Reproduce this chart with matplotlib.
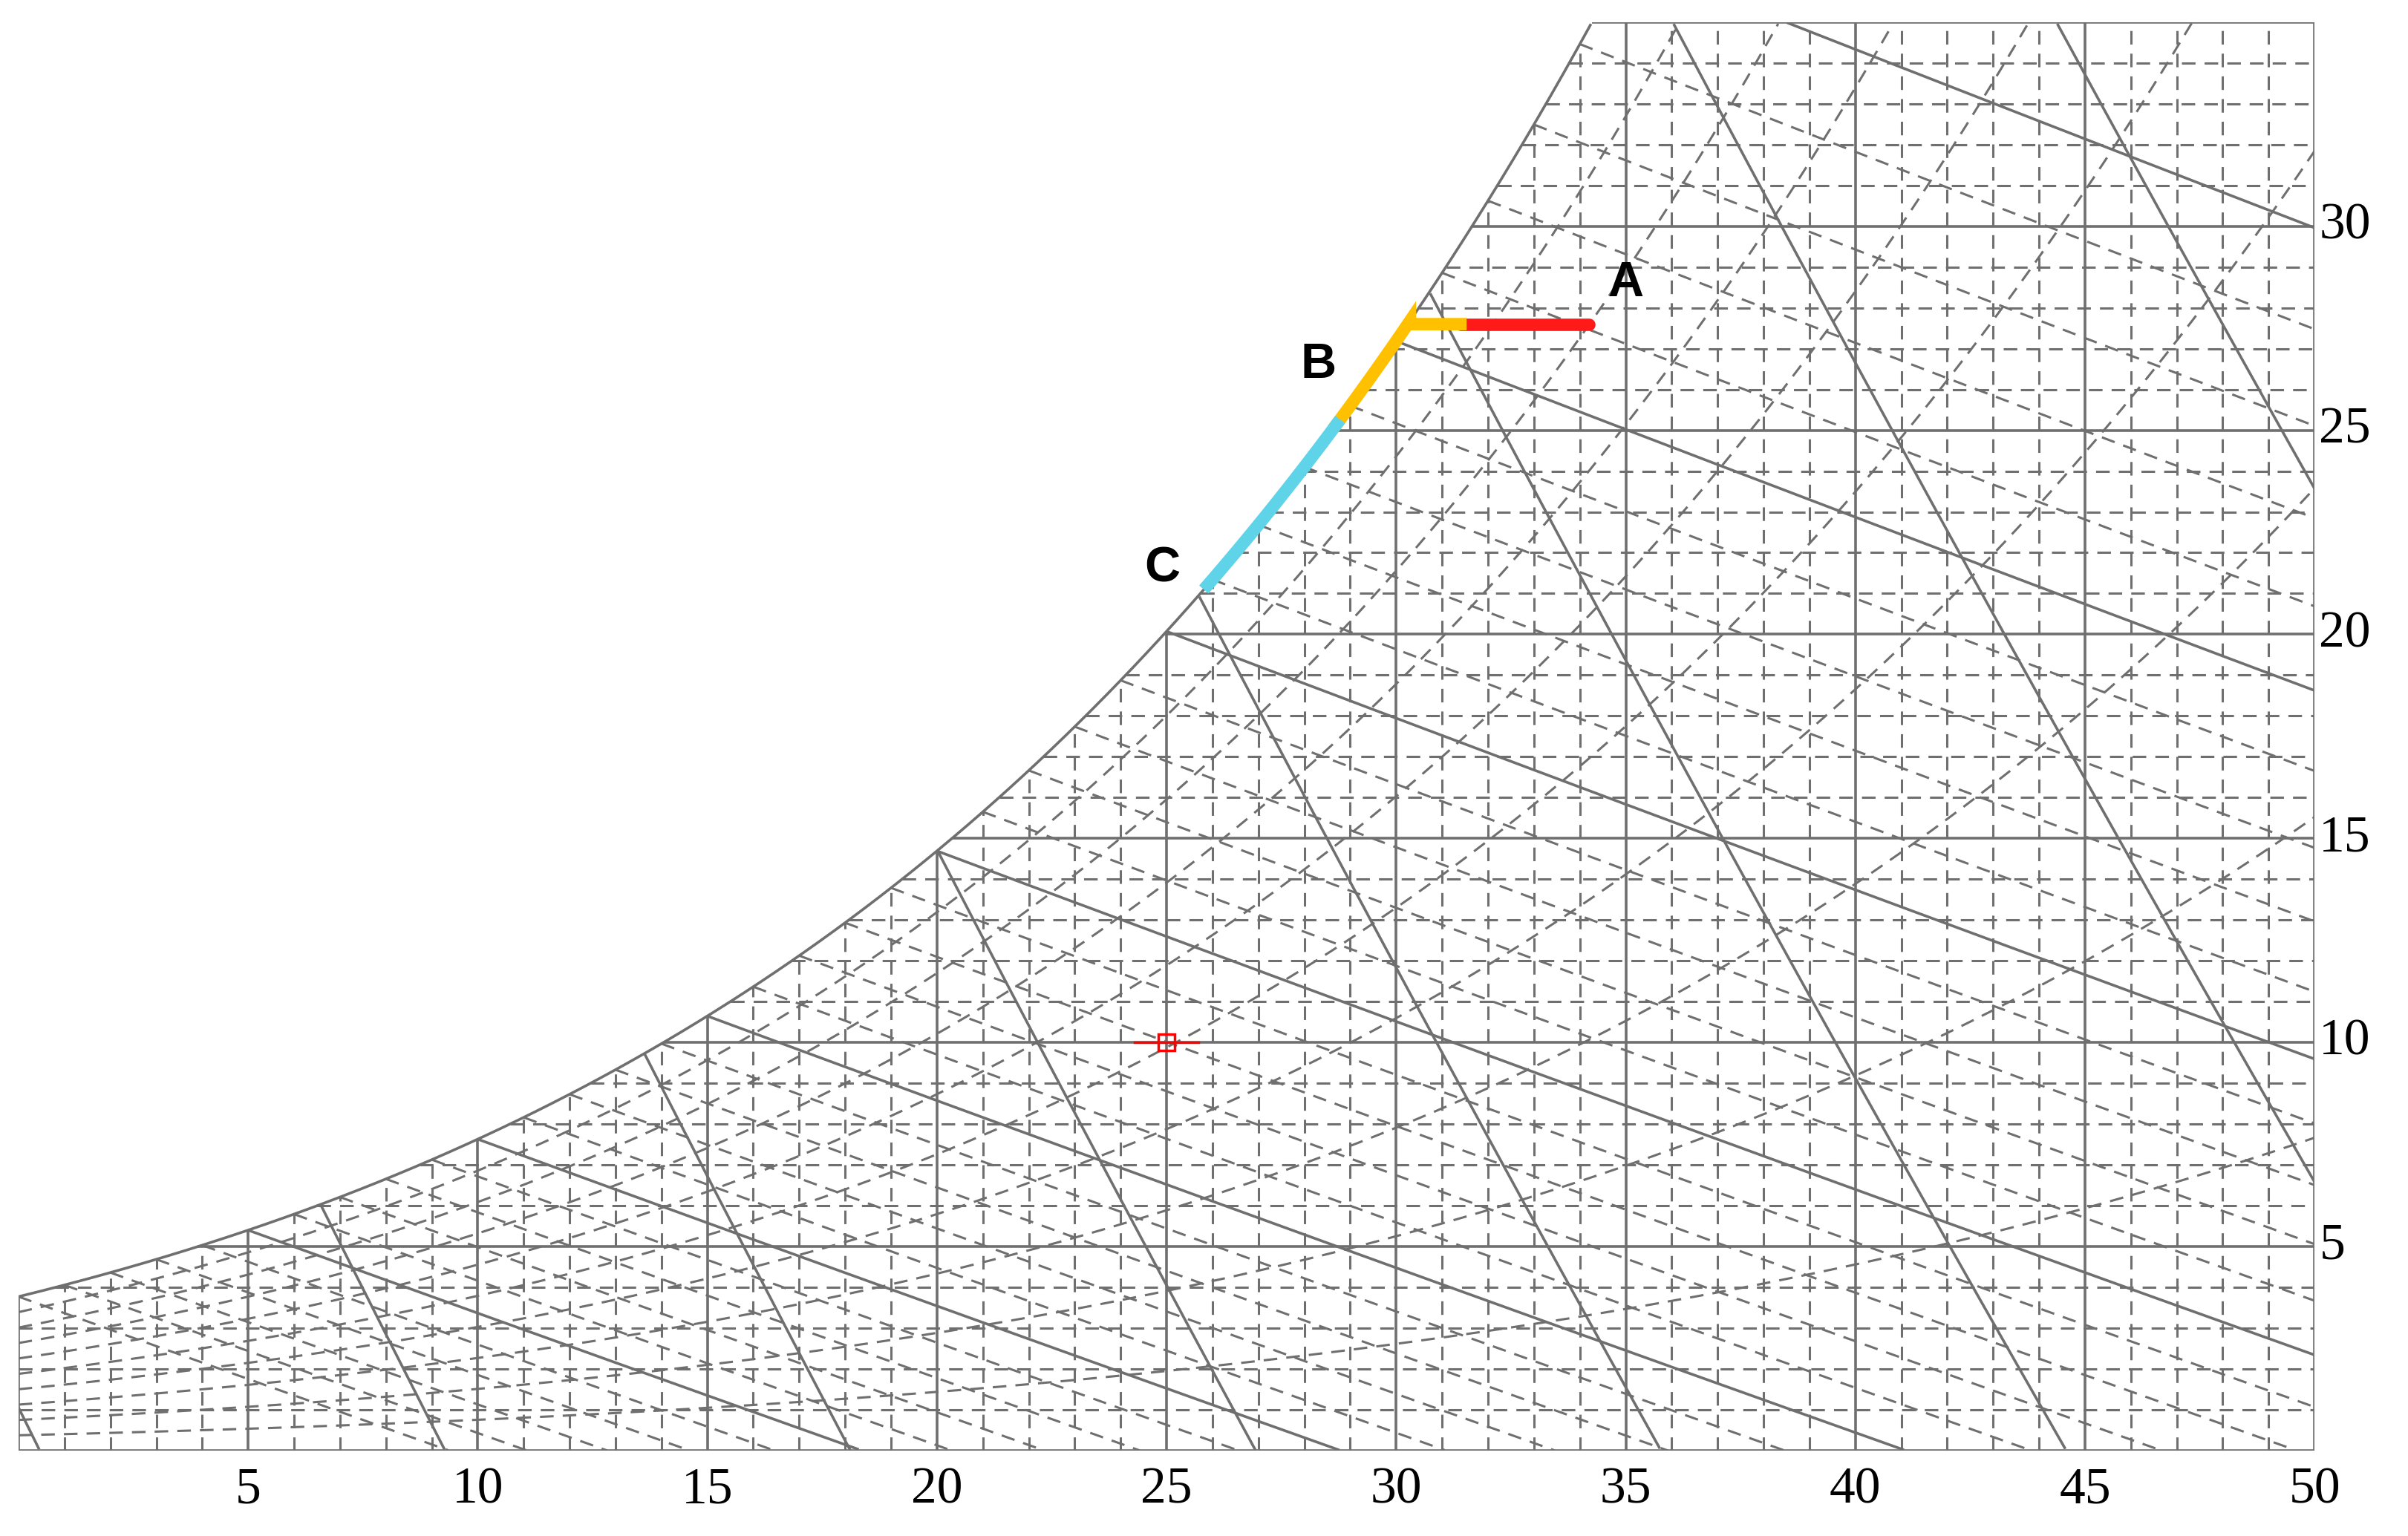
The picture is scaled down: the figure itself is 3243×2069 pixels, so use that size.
import numpy as np
import matplotlib.pyplot as plt

P = 101325.0
GREY = "#6f6f6f"

# chart ranges
t_min, t_max = 0, 50
w_max = 35
temp_ticks = [5, 10, 15, 20, 25, 30, 35, 40, 45, 50]
w_ticks = [5, 10, 15, 20, 25, 30]
rh_levels = [0.1, 0.2, 0.3, 0.4, 0.5, 0.6, 0.7, 0.8, 0.9]
wb_levels = list(range(0, 36))
vol_levels = [0.775, 0.80, 0.825, 0.85, 0.875, 0.90, 0.925, 0.95]

# process: A -> B (cooling to saturation) -> C (along saturation)
a_temp, a_w = 34.2, 27.6
kink_temp = 31.4
b_temp = 28.7
c_temp = 25.9
marker_temp, marker_w = 25.0, 10.0


def p_sat(t):
    return 610.78 * np.exp(17.27 * t / (t + 237.3))


def w_rh(t, phi):
    pv = phi * p_sat(t)
    return 622.0 * pv / (P - pv)


def w_sat(t):
    return w_rh(t, 1.0)


def w_wetbulb(t, twb):
    ws = w_sat(twb) / 1000.0
    w = ((2501 - 2.326 * twb) * ws - 1.006 * (t - twb)) / (2501 + 1.86 * t - 4.186 * twb)
    return w * 1000.0


def w_volume(t, v):
    return (v * P / 1000.0 / (0.287 * (t + 273.15)) - 1) / 1.6078 * 1000.0


def clip(t, w):
    w = np.array(w, dtype=float)
    bad = (w > w_sat(t) + 1e-6) | (w > w_max) | (w < 0)
    w[bad] = np.nan
    return w


fig = plt.figure(figsize=(32.43, 20.69), dpi=100)
ax = fig.add_axes([0.0077, 0.0556, 0.9535, 0.930])
ax.set_xlim(t_min, t_max)
ax.set_ylim(0, w_max)
ax.axis("off")

solid = dict(color=GREY, lw=2.6, solid_capstyle="butt")
dashed = dict(color=GREY, lw=2.2, linestyle=(0, (6, 4)))

t = np.linspace(t_min, t_max, 2000)

# saturation curve
ax.plot(t, clip(t, w_sat(t)), **solid)
# frame
ax.plot([t_min, t_max], [0, 0], **solid)
ax.plot([t_max, t_max], [0, w_max], **solid)
ax.plot([t_min, t_min], [0, w_sat(t_min)], **solid)
t_top = t[np.argmin(np.abs(w_sat(t) - w_max))]
ax.plot([t_top, t_max], [w_max, w_max], **solid)

# dry bulb lines
for tv in range(1, t_max):
    top = min(w_sat(tv), w_max)
    style = solid if tv % 5 == 0 else dashed
    ax.plot([tv, tv], [0, top], **style)

# humidity ratio lines
for wv in range(1, w_max):
    ts = t[np.argmin(np.abs(w_sat(t) - wv))]
    style = solid if wv % 5 == 0 else dashed
    ax.plot([ts, t_max], [wv, wv], **style)

# relative humidity curves
for phi in rh_levels:
    ax.plot(t, clip(t, w_rh(t, phi)), **dashed)

# wet bulb lines
for twb in wb_levels:
    tt = np.linspace(twb, t_max, 600)
    style = solid if twb % 5 == 0 and twb > 0 else dashed
    ax.plot(tt, clip(tt, w_wetbulb(tt, twb)), **style)

# specific volume lines
for v in vol_levels:
    ax.plot(t, clip(t, w_volume(t, v)), **solid)

# process path
ax.plot([a_temp, kink_temp], [a_w, a_w], color="#ff1a1a", lw=12, solid_capstyle="round", zorder=5)
tb = np.linspace(b_temp, 30.3, 50)
ax.plot(np.r_[kink_temp, 30.3, tb[::-1]], np.r_[a_w, a_w, w_sat(tb[::-1])],
        color="#ffc000", lw=12, solid_joinstyle="miter", zorder=5)
tc = np.linspace(c_temp, b_temp, 50)
ax.plot(tc, w_sat(tc), color="#5fd3e8", lw=12, zorder=5)

for label, x, y in [("A", 35.0, 28.6), ("B", 28.3, 26.6), ("C", 24.9, 21.6)]:
    ax.text(x, y, label, fontsize=48, fontweight="bold", family="Liberation Sans",
            ha="center", va="center", zorder=6)

# state marker
ax.plot([marker_temp - 0.7, marker_temp + 0.7], [marker_w, marker_w], color="red", lw=2.5, zorder=6)
ax.plot(marker_temp, marker_w, marker="s", ms=16, mfc="none", mec="red", mew=2.5, zorder=6)

# tick labels
for tv in temp_ticks:
    ax.text(tv, -0.4, str(tv), fontsize=50, family="Liberation Serif",
            ha="center", va="top", clip_on=False)
for wv in w_ticks:
    ax.text(t_max + 0.1, wv, str(wv), fontsize=50, family="Liberation Serif",
            ha="left", va="center", clip_on=False)

fig.savefig("out.png", dpi=100, facecolor="white")
